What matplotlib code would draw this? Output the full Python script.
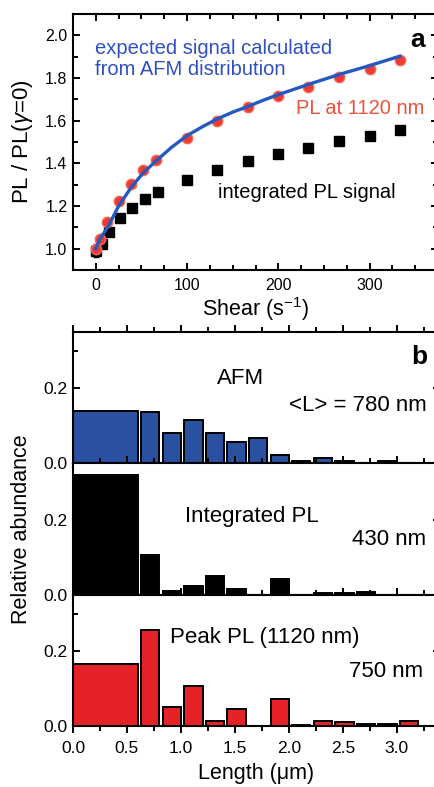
import numpy as np
import matplotlib
matplotlib.use("Agg")
from matplotlib import pyplot as plt
from matplotlib.ticker import MultipleLocator

plt.rcParams['font.family'] = ['Liberation Sans', 'DejaVu Sans']
plt.rcParams['mathtext.fontset'] = 'custom'
plt.rcParams['mathtext.rm'] = 'Liberation Sans'
plt.rcParams['mathtext.it'] = 'Liberation Sans:italic'
plt.rcParams['axes.unicode_minus'] = False

# panel a : PL vs shear
shear_red = [0, 5, 12, 25, 39, 52, 66, 100, 133, 167, 200, 233, 267, 300, 333]
pl_1120 = [1.00, 1.047, 1.125, 1.225, 1.305, 1.367, 1.417, 1.52, 1.598, 1.664,
           1.714, 1.758, 1.806, 1.844, 1.886]
shear_blk = [0, 7, 14, 27, 40, 54, 68, 100, 133, 167, 200, 233, 267, 300, 333]
pl_integrated = [0.99, 1.023, 1.078, 1.143, 1.19, 1.232, 1.265, 1.323, 1.367,
                 1.41, 1.445, 1.473, 1.503, 1.528, 1.555]
err_integrated = [0.03] + [0.0] * 14
shear_afm = [0, 5, 13, 25, 40, 53, 67, 83, 100, 117, 133, 150, 167, 183, 200,
             233, 267, 300, 333]
pl_afm = [1.00, 1.05, 1.10, 1.20, 1.295, 1.36, 1.415, 1.475, 1.53, 1.572, 1.608,
          1.64, 1.667, 1.695, 1.722, 1.77, 1.817, 1.858, 1.902]

# panel b : length histograms (bins in um)
bin_lo = [0.0, 0.6, 0.8, 1.0, 1.2, 1.4, 1.6, 1.8, 2.0, 2.2, 2.4, 2.6, 2.8, 3.0]
bin_hi = [0.6, 0.8, 1.0, 1.2, 1.4, 1.6, 1.8, 2.0, 2.2, 2.4, 2.6, 2.8, 3.0, 3.2]
afm_abund = [0.139, 0.135, 0.081, 0.116, 0.081, 0.055, 0.068, 0.021, 0.006,
             0.014, 0.006, 0.0, 0.006, 0.0]
int_abund = [0.318, 0.107, 0.011, 0.024, 0.05, 0.015, 0.0, 0.042, 0.0, 0.005,
             0.006, 0.009, 0.0, 0.0]
peak_abund = [0.165, 0.257, 0.05, 0.106, 0.013, 0.046, 0.0, 0.072, 0.004, 0.013,
              0.011, 0.006, 0.005, 0.013]

W, H = 434, 787
fig = plt.figure(figsize=(W / 100, H / 100), dpi=100)


def px_axes(left, top, right, bottom):
    return fig.add_axes([left / W, 1 - bottom / H, (right - left) / W, (bottom - top) / H])


def style(ax, bottom_dir='in', size=11.5):
    for s in ax.spines.values():
        s.set_linewidth(1.5)
    ax.tick_params(which='both', direction='in', width=1.4, top=True, right=True,
                   labelsize=size, pad=4)
    ax.tick_params(axis='x', which='both', direction=bottom_dir, pad=6)
    ax.tick_params(which='major', length=5)
    ax.tick_params(which='minor', length=3.5)


# ---- panel a
ax = px_axes(73, 14, 438, 270)
style(ax)
ax.errorbar(shear_blk, pl_integrated, yerr=err_integrated, fmt='s', color='black',
            ms=6.5, capsize=2, elinewidth=1, zorder=2)
ax.plot(shear_red, pl_1120, 'o', color='#ee3a30', ms=7.5, mec='#f26a5a', mew=1, zorder=3)
ax.plot(shear_afm, pl_afm, '-', color='#2559c0', lw=2.4, zorder=4)
ax.set_xlim(-25, 375)
ax.set_ylim(0.9, 2.1)
ax.xaxis.set_major_locator(MultipleLocator(100))
ax.xaxis.set_minor_locator(MultipleLocator(25))
ax.yaxis.set_major_locator(MultipleLocator(0.2))
ax.yaxis.set_minor_locator(MultipleLocator(0.1))
ax.set_xlabel('Shear (s$^{-1}$)', fontsize=15.5, labelpad=1)
ax.set_ylabel('PL / PL($\\gamma$=0)', fontsize=16, labelpad=7)
ax.text(-1, 1.89, 'expected signal calculated\nfrom AFM distribution', color='#2f50c4',
        fontsize=14.5, ha='left', va='center', linespacing=1.15)
ax.text(360, 1.656, 'PL at 1120 nm', color='#f0503a', fontsize=14.5, ha='right', va='center')
ax.text(134, 1.261, 'integrated PL signal', color='black', fontsize=14.5, ha='left', va='center')
ax.text(361, 1.98, 'a', fontsize=19, fontweight='bold', ha='right', va='center')

# ---- panel b
panels = [
    (332, 463, afm_abund, '#2a50a0'),
    (463, 595, int_abund, 'black'),
    (595, 726, peak_abund, '#e52228'),
]
lo = np.array(bin_lo)
hi = np.array(bin_hi)
left_edge = lo + np.where(lo > 0, 0.03, 0.0)
axes_b = []
for top, bottom, vals, col in panels:
    axb = px_axes(73, top, 440, bottom)
    style(axb, bottom_dir='out', size=12.5)
    axb.bar(left_edge, vals, width=hi - left_edge, align='edge', color=col,
            edgecolor='black', linewidth=1.4, zorder=2)
    axb.set_xlim(0, 3.4)
    axb.set_ylim(0, 0.35)
    axb.xaxis.set_major_locator(MultipleLocator(0.5))
    axb.xaxis.set_minor_locator(MultipleLocator(0.25))
    axb.yaxis.set_major_locator(MultipleLocator(0.2))
    axb.yaxis.set_minor_locator(MultipleLocator(0.1))
    axb.set_yticks([0.0, 0.2])
    axb.set_yticklabels(['0.0', '0.2'])
    axb.tick_params(labelbottom=False)
    axes_b.append(axb)

a1, a2, a3 = axes_b
a3.tick_params(labelbottom=True)
a3.set_xlabel('Length (\u03bcm)', fontsize=15.5, labelpad=5)

a1.text(3.28, 0.283, 'b', fontsize=19, fontweight='bold', ha='right', va='center')
a1.text(1.55, 0.225, 'AFM', fontsize=16, ha='center', va='center')
a1.text(3.28, 0.154, '<L> = 780 nm', fontsize=16, ha='right', va='center')
a2.text(1.66, 0.207, 'Integrated PL', fontsize=16, ha='center', va='center')
a2.text(3.27, 0.148, '430 nm', fontsize=16, ha='right', va='center')
a3.text(0.9, 0.237, 'Peak PL (1120 nm)', fontsize=16, ha='left', va='center')
a3.text(3.24, 0.146, '750 nm', fontsize=16, ha='right', va='center')

fig.text(22 / W, 1 - 529 / H, 'Relative abundance', rotation=90, fontsize=15.5,
         ha='center', va='center')

fig.savefig('out.png', dpi=100)
